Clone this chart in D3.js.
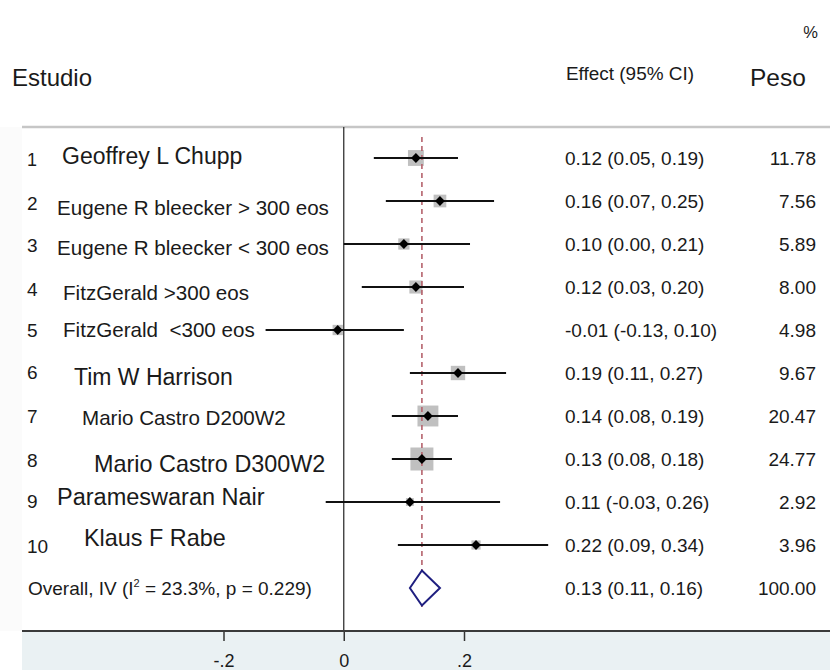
<!DOCTYPE html>
<html>
<head>
<meta charset="utf-8">
<script src="https://cdn.jsdelivr.net/npm/d3@7"></script>
<style>
  html, body { margin: 0; padding: 0; background: #fff; }
  svg { display: block; }
  text { font-family: "Liberation Sans", Arial, sans-serif; fill: #1a1a1a; white-space: pre; }
</style>
</head>
<body>
<svg id="chart" width="830" height="670"></svg>
<script>
// Study data (effect and 95% CI), inverse-variance weights in %
const studyNumbers = ["1", "2", "3", "4", "5", "6", "7", "8", "9", "10"];
const studies = [
  "Geoffrey L Chupp",
  "Eugene R bleecker > 300 eos",
  "Eugene R bleecker < 300 eos",
  "FitzGerald >300 eos",
  "FitzGerald  <300 eos",
  "Tim W Harrison",
  "Mario Castro D200W2",
  "Mario Castro D300W2",
  "Parameswaran Nair",
  "Klaus F Rabe"
];
const effects = [0.12, 0.16, 0.10, 0.12, -0.01, 0.19, 0.14, 0.13, 0.11, 0.22];
const lower   = [0.05, 0.07, 0.00, 0.03, -0.13, 0.11, 0.08, 0.08, -0.03, 0.09];
const upper   = [0.19, 0.25, 0.21, 0.20, 0.10, 0.27, 0.19, 0.18, 0.26, 0.34];
const weights = [11.78, 7.56, 5.89, 8.00, 4.98, 9.67, 20.47, 24.77, 2.92, 3.96];

// Pooled estimate
const overallEffect = 0.13;
const overallLower = 0.11;
const overallUpper = 0.16;
const overallWeight = 100.00;
const heterogI2 = "23.3%";
const heterogP = "0.229";

// Axis ticks
const tickValues = [-0.2, 0, 0.2];
const tickLabels = ["-.2", "0", ".2"];

// Per-row label typography (x offset, font size, baseline offset from row centre)
const numberStyle = [
  {size: 18, dy: 8}, {size: 19, dy: 9}, {size: 19, dy: 8}, {size: 19, dy: 9}, {size: 19, dy: 7},
  {size: 19, dy: 6}, {size: 19, dy: 7}, {size: 19, dy: 8}, {size: 19, dy: 6}, {size: 19, dy: 8}
];
const nameStyle = [
  {x: 62, size: 23, dy: 6},
  {x: 57, size: 20.6, dy: 14},
  {x: 57, size: 20.6, dy: 11},
  {x: 63, size: 20.6, dy: 13},
  {x: 63, size: 20.6, dy: 7},
  {x: 74, size: 23, dy: 12},
  {x: 82, size: 20.6, dy: 9},
  {x: 94, size: 23.4, dy: 13},
  {x: 57, size: 23.5, dy: 3},
  {x: 84, size: 23.4, dy: 1}
];

const svg = d3.select("#chart");
const W = 830, H = 670;
const frameLeft = 22, topRuleY = 127, axisY = 631;

const x = d3.scaleLinear().domain([-0.2, 0.2]).range([223.5, 464]);
const y = d3.scalePoint().domain(d3.range(studies.length + 1)).range([158, 588]);
const boxSide = d3.scaleSqrt().domain([0, d3.max(weights)]).range([0, 23]);
const fmt = v => v.toFixed(2);

// Background panels
svg.append("rect").attr("x", 0).attr("y", topRuleY).attr("width", frameLeft).attr("height", axisY - topRuleY)
  .attr("fill", "#fbfbfb");
svg.append("rect").attr("x", frameLeft).attr("y", axisY).attr("width", W - frameLeft).attr("height", H - axisY)
  .attr("fill", "#eaf1f3");

// Column headers
svg.append("text").attr("x", 12).attr("y", 86).attr("font-size", 24).text("Estudio");
svg.append("text").attr("x", 566).attr("y", 80).attr("font-size", 17.5)
  .attr("textLength", 128).attr("lengthAdjust", "spacingAndGlyphs").text("Effect (95% CI)");
svg.append("text").attr("x", 750).attr("y", 86).attr("font-size", 24.5).text("Peso");
svg.append("text").attr("x", 818).attr("y", 38).attr("font-size", 16.5).attr("text-anchor", "end").text("%");

// Frame rules
svg.append("line").attr("x1", frameLeft).attr("x2", W).attr("y1", topRuleY).attr("y2", topRuleY)
  .attr("stroke", "#c6c6c6").attr("stroke-width", 2.5);

// Null-effect line
svg.append("line").attr("x1", x(0)).attr("x2", x(0)).attr("y1", topRuleY).attr("y2", axisY)
  .attr("stroke", "#333").attr("stroke-width", 1.3);

const rows = studies.map((s, i) => ({
  i, name: s, num: studyNumbers[i], e: effects[i], l: lower[i], u: upper[i], w: weights[i]
}));

// Weight boxes
svg.append("g").selectAll("rect").data(rows).join("rect")
  .attr("x", d => x(d.e) - boxSide(d.w) / 2)
  .attr("y", d => y(d.i) - boxSide(d.w) / 2)
  .attr("width", d => boxSide(d.w))
  .attr("height", d => boxSide(d.w))
  .attr("fill", "#c0c0c0");

// Pooled-effect reference line
svg.append("line").attr("x1", x(overallEffect)).attr("x2", x(overallEffect))
  .attr("y1", 137).attr("y2", 607)
  .attr("stroke", "#b5626c").attr("stroke-width", 1.6).attr("stroke-dasharray", "5,4");

// Confidence intervals
svg.append("g").selectAll("line").data(rows).join("line")
  .attr("x1", d => x(d.l)).attr("x2", d => x(d.u))
  .attr("y1", d => y(d.i)).attr("y2", d => y(d.i))
  .attr("stroke", "#111").attr("stroke-width", 2);

// Point estimates
const marker = d3.symbol().type(d3.symbolSquare).size(48);
svg.append("g").selectAll("path").data(rows).join("path")
  .attr("d", marker)
  .attr("transform", d => `translate(${x(d.e)},${y(d.i)}) rotate(45)`)
  .attr("fill", "#000");

// Pooled diamond
const yo = y(studies.length);
const diamond = [
  [x(overallLower), yo], [x(overallEffect), yo - 17.5],
  [x(overallUpper), yo], [x(overallEffect), yo + 17.5]
];
svg.append("path").attr("d", d3.line()(diamond) + "Z")
  .attr("fill", "#fff").attr("stroke", "#1f1f80").attr("stroke-width", 2);

// Study labels
const lab = svg.append("g");
rows.forEach(d => {
  lab.append("text").attr("x", 27).attr("y", y(d.i) + numberStyle[d.i].dy)
    .attr("font-size", numberStyle[d.i].size).text(d.num);
  lab.append("text").attr("x", nameStyle[d.i].x).attr("y", y(d.i) + nameStyle[d.i].dy)
    .attr("font-size", nameStyle[d.i].size).text(d.name);
});

// Overall label with I² superscript
const ot = lab.append("text").attr("x", 28).attr("y", yo + 7).attr("font-size", 19);
ot.append("tspan").text("Overall, IV (I");
ot.append("tspan").attr("font-size", 11).attr("dy", -8).text("2");
ot.append("tspan").attr("dy", 8).text(` = ${heterogI2}, p = ${heterogP})`);

// Effect and weight columns
const cols = svg.append("g");
rows.forEach(d => {
  cols.append("text").attr("x", 565).attr("y", y(d.i) + 7).attr("font-size", 19)
    .text(`${fmt(d.e)} (${fmt(d.l)}, ${fmt(d.u)})`);
  cols.append("text").attr("x", 816).attr("y", y(d.i) + 7).attr("font-size", 19)
    .attr("text-anchor", "end").text(fmt(d.w));
});
cols.append("text").attr("x", 565).attr("y", yo + 7).attr("font-size", 19)
  .text(`${fmt(overallEffect)} (${fmt(overallLower)}, ${fmt(overallUpper)})`);
cols.append("text").attr("x", 816).attr("y", yo + 7).attr("font-size", 19)
  .attr("text-anchor", "end").text(fmt(overallWeight));

// X axis
const axis = d3.axisBottom(x).tickValues(tickValues)
  .tickFormat((d, i) => tickLabels[i]).tickSize(10).tickSizeOuter(0).tickPadding(13);
const ag = svg.append("g").attr("transform", `translate(0,${axisY})`).call(axis);
ag.select(".domain").remove();
ag.selectAll(".tick line").attr("stroke", "#333").attr("stroke-width", 1.5);
ag.selectAll(".tick text").attr("font-size", 18).attr("fill", "#1a1a1a")
  .attr("font-family", "Liberation Sans, Arial, sans-serif");

svg.append("line").attr("x1", frameLeft).attr("x2", W).attr("y1", axisY).attr("y2", axisY)
  .attr("stroke", "#3a3a3a").attr("stroke-width", 2);
</script>
</body>
</html>
